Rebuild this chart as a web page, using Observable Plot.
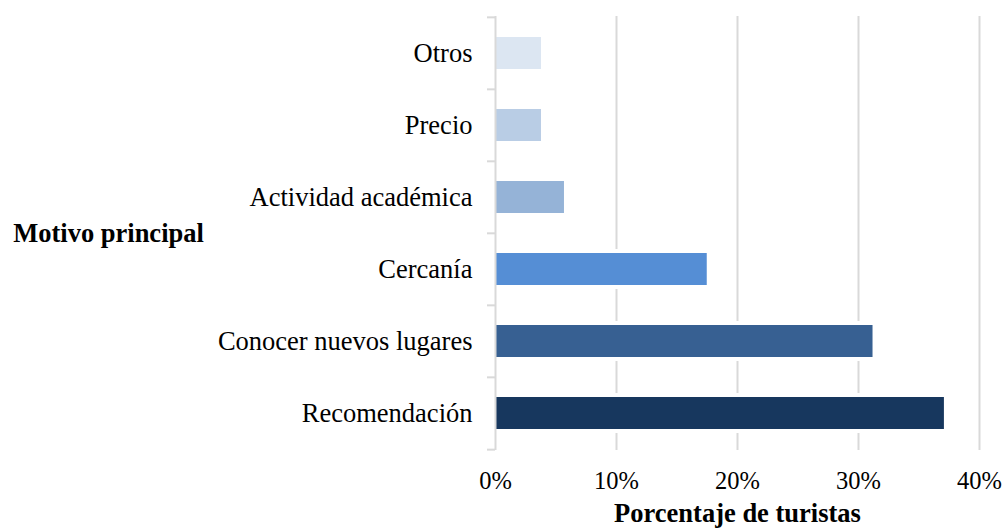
<!DOCTYPE html>
<html>
<head>
<meta charset="utf-8">
<script src="https://cdn.jsdelivr.net/npm/d3@7"></script>
<script src="https://cdn.jsdelivr.net/npm/@observablehq/plot@0.6"></script>
<style>
  html, body { margin: 0; padding: 0; background: #fff; }
</style>
</head>
<body>
<div id="chart"></div>
<script>
const categories = ["Otros", "Precio", "Actividad académica", "Cercanía", "Conocer nuevos lugares", "Recomendación"];
const values = [3.8, 3.8, 5.7, 17.5, 31.2, 37.1];
const colors = ["#dce6f2", "#b9cde5", "#95b3d7", "#558ed5", "#376092", "#17375e"];
const xTicks = [0, 10, 20, 30, 40];
const yLabel = "Motivo principal";
const xLabel = "Porcentaje de turistas";

const data = categories.map((c, i) => ({motivo: c, valor: values[i]}));

const W = 1004, H = 531, mt = 16, mb = 81, ml = 495, mr = 25;
const step = (H - mt - mb) / categories.length;
const grey = "#d9d9d9";

const chart = Plot.plot({
  width: W,
  height: H,
  marginTop: mt,
  marginBottom: mb,
  marginLeft: ml,
  marginRight: mr,
  style: {fontFamily: "'Liberation Serif', 'Times New Roman', serif", color: "#000", background: "#fff", overflow: "visible"},
  x: {domain: [0, 40]},
  y: {domain: categories, paddingInner: 0.56, paddingOuter: 0.28},
  color: {domain: categories, range: colors},
  marks: [
    Plot.gridX(xTicks.slice(1), {stroke: grey, strokeOpacity: 1, strokeWidth: 2}),
    Plot.barX(data, {x: "valor", y: "motivo", fill: "white", stroke: "white", strokeWidth: 8}),
    Plot.barX(data, {x: "valor", y: "motivo", fill: "motivo"}),
    Plot.ruleX([0], {stroke: grey, strokeWidth: 2}),
    Plot.axisY({tickSize: 0, tickPadding: 23, fontSize: 26.5, label: null}),
    Plot.axisY({tickSize: 8, tickFormat: () => "", dy: -step / 2, stroke: grey, strokeWidth: 2, label: null}),
    Plot.axisY([categories[categories.length - 1]], {tickSize: 8, tickFormat: () => "", dy: step / 2, stroke: grey, strokeWidth: 2, label: null}),
    Plot.axisX(xTicks, {tickSize: 0, tickPadding: 21, fontSize: 24.5, tickFormat: d => d + "%", label: null}),
    Plot.text([yLabel], {text: d => d, frameAnchor: "left", dx: -(ml - 12.7), textAnchor: "start", fontWeight: "bold", fontSize: 26.5}),
    Plot.text([xLabel], {text: d => d, frameAnchor: "bottom", lineAnchor: "bottom", dy: 71, fontWeight: "bold", fontSize: 26.5})
  ]
});

document.getElementById("chart").appendChild(chart);
</script>
</body>
</html>
